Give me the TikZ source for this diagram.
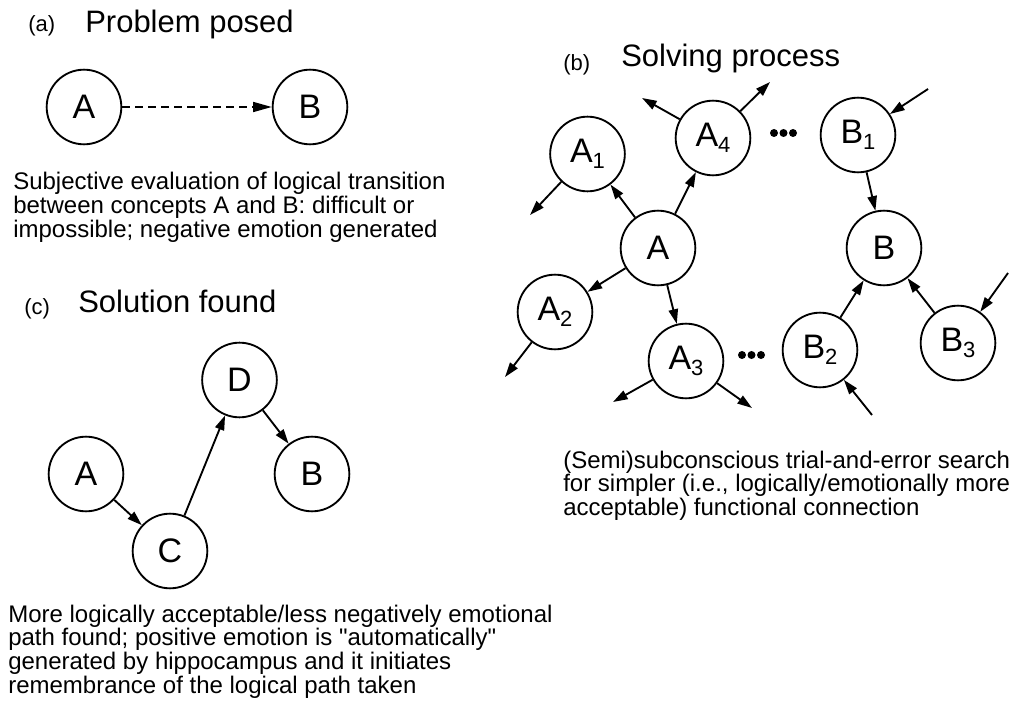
\documentclass[tikz,border=0pt]{standalone}
\usepackage{fontspec}
\setmainfont{Liberation Sans}
\usetikzlibrary{arrows.meta}
\newcommand\subs[1]{\raisebox{-4.5pt}{\fontsize{16.5}{16.5}\selectfont #1}}
\newcommand\dq{\XeTeXglyph\XeTeXglyphindex "quotedbl"\relax}
\begin{document}
\begin{tikzpicture}[x=0.75pt,y=-0.75pt,
  circ/.style={circle, draw, line width=1.4pt, minimum size=56pt, inner sep=0pt, font=\fontsize{25.5}{25.5}\selectfont},
  arr/.style={-{Triangle[length=11pt,width=7pt]}, line width=1.4pt},
  dasharr/.style={-{Triangle[length=14pt,width=7.5pt]}, line width=1.2pt, dash pattern=on 6pt off 3.75pt},
  body/.style={font=\fontsize{18}{16.1}\selectfont, align=left, inner sep=0pt, anchor=north west},
  ttl/.style={font=\fontsize{23.25}{23.25}\selectfont, inner sep=0pt, anchor=base west},
  lbl/.style={font=\fontsize{16.5}{16.5}\selectfont, inner sep=0pt, anchor=base west},
  dotfill/.style={fill=black}]
\useasboundingbox (0,0) rectangle (1015,706);

% (a)
\node[lbl] (la) at (28,31.5) {(a)};
\node[ttl] (ta) at (85,32.5) {Problem posed};
\node[circ] (aA) at (84,107) {A};
\node[circ] (aB) at (310,107) {B};
\draw[dasharr] (aA) -- (aB);
\node[body] (txa) at (13,172) {Subjective evaluation of logical transition\\between concepts A and B: difficult or\\impossible; negative emotion generated};

% (b)
\node[lbl] (lb) at (563,71) {(b)};
\node[ttl] (tb) at (621,66.5) {Solving process};
\node[circ] (bA1) at (587.5,154) {A\subs{1}};
\node[circ] (bA4) at (713,138) {A\subs{4}};
\node[circ] (bB1) at (858,135) {B\subs{1}};
\node[circ] (bA) at (658,248) {A};
\node[circ] (bB) at (884,248) {B};
\node[circ] (bA2) at (555,312) {A\subs{2}};
\node[circ] (bA3) at (686,361) {A\subs{3}};
\node[circ] (bB2) at (820,350) {B\subs{2}};
\node[circ] (bB3) at (958,343) {B\subs{3}};

\draw[arr] (bA) -- (bA1);
\draw[arr] (bA) -- (bA4);
\draw[arr] (bA) -- (bA2);
\draw[arr] (bA) -- (bA3);
\draw[arr] (bB1) -- (bB);
\draw[arr] (bB2) -- (bB);
\draw[arr] (bB3) -- (bB);

\coordinate (o1) at (530,215);
\coordinate (o4l) at (642,98);
\coordinate (o4r) at (770,82);
\coordinate (o2) at (505,377);
\coordinate (o3l) at (613,402);
\coordinate (o3r) at (752,408);
\coordinate (i1) at (928,89);
\coordinate (i3) at (1008,273);
\coordinate (i2) at (872,415);
\draw[arr] (bA1) -- (o1);
\draw[arr] (bA4) -- (o4l);
\draw[arr] (bA4) -- (o4r);
\draw[arr] (bA2) -- (o2);
\draw[arr] (bA3) -- (o3l);
\draw[arr] (bA3) -- (o3r);
\draw[arr] (i1) -- (bB1);
\draw[arr] (i3) -- (bB3);
\draw[arr] (i2) -- (bB2);

\fill[dotfill] (774,133) circle (4) (783.5,133) circle (4) (793,133) circle (4);
\fill[dotfill] (742,355) circle (4) (751.5,355) circle (4) (761,355) circle (4);

\node[body] (txb) at (563,450.5) {(Semi)subconscious trial-and-error search\\for simpler (i.e., logically/emotionally more\\acceptable) functional connection};

% (c)
\node[lbl] (lc) at (24,315) {(c)};
\node[ttl] (tc) at (78,313) {Solution found};
\node[circ] (cA) at (86,474) {A};
\node[circ] (cC) at (170,551) {C};
\node[circ] (cD) at (239.5,380) {D};
\node[circ] (cB) at (312,474) {B};
\draw[arr] (cA) -- (cC);
\draw[arr] (cC) -- (cD);
\draw[arr] (cD) -- (cB);
\node[body] (txc) at (8,604.5) {More logically acceptable/less negatively emotional\\path found; positive emotion is \dq automatically\dq\\generated by hippocampus and it initiates\\remembrance of the logical path taken};
\end{tikzpicture}
\end{document}
